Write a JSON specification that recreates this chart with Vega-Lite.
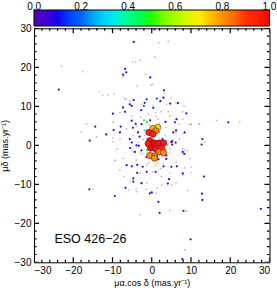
{
  "$schema": "https://vega.github.io/schema/vega-lite/v6.json",
  "width": 235.5,
  "height": 234,
  "autosize": {"type": "none"},
  "padding": {"left": 34, "top": 28.3, "right": 7.5, "bottom": 28.7},
  "background": "white",
  "config": {
    "font": "Liberation Sans",
    "view": {"stroke": "black", "strokeWidth": 1},
    "axis": {
      "domain": false, "grid": false, "ticks": false, "labelOverlap": false,
      "labelFont": "Liberation Sans", "labelFontSize": 10, "labelColor": "black",
      "titleFont": "Liberation Sans", "titleFontSize": 9, "titleFontWeight": "normal", "titleColor": "black"
    }
  },
  "datasets": {
    "ticks": [
      {"v": -30, "kind": "major"}, {"v": -28, "kind": "minor"}, {"v": -26, "kind": "minor"}, {"v": -24, "kind": "minor"}, {"v": -22, "kind": "minor"},
      {"v": -20, "kind": "major"}, {"v": -18, "kind": "minor"}, {"v": -16, "kind": "minor"}, {"v": -14, "kind": "minor"}, {"v": -12, "kind": "minor"},
      {"v": -10, "kind": "major"}, {"v": -8, "kind": "minor"}, {"v": -6, "kind": "minor"}, {"v": -4, "kind": "minor"}, {"v": -2, "kind": "minor"},
      {"v": 0, "kind": "major"}, {"v": 2, "kind": "minor"}, {"v": 4, "kind": "minor"}, {"v": 6, "kind": "minor"}, {"v": 8, "kind": "minor"},
      {"v": 10, "kind": "major"}, {"v": 12, "kind": "minor"}, {"v": 14, "kind": "minor"}, {"v": 16, "kind": "minor"}, {"v": 18, "kind": "minor"},
      {"v": 20, "kind": "major"}, {"v": 22, "kind": "minor"}, {"v": 24, "kind": "minor"}, {"v": 26, "kind": "minor"}, {"v": 28, "kind": "minor"},
      {"v": 30, "kind": "major"}
    ],
    "field": [
      {"x": -23, "y": 20.3}, {"x": -17.6, "y": 18.9}, {"x": -4.8, "y": 21.4}, {"x": -4.1, "y": 21.4}, {"x": -2.9, "y": 21.8},
      {"x": -3.7, "y": 15.2}, {"x": -1.4, "y": 18.2}, {"x": -7.3, "y": 17.5}, {"x": -13.4, "y": 13.7}, {"x": -12.5, "y": 12.9},
      {"x": -11.1, "y": 12.9}, {"x": -9.6, "y": 13.2}, {"x": -7.0, "y": 12.0}, {"x": -6.5, "y": 11.8}, {"x": -0.2, "y": 15.4},
      {"x": 1.8, "y": 26.3}, {"x": 4.2, "y": 26.6}, {"x": 0.8, "y": 22.7}, {"x": 0.2, "y": 15.6}, {"x": 3.3, "y": 13.4},
      {"x": 4.9, "y": 12.1}, {"x": 8.2, "y": 10.0}, {"x": -18, "y": 3.4}, {"x": -16.6, "y": 5.5}, {"x": -14.1, "y": 2.2},
      {"x": -9.9, "y": 1.9}, {"x": -9.9, "y": 0.9}, {"x": -9.2, "y": -3.9}, {"x": -7.1, "y": -8.0}, {"x": 1.0, "y": 8.4},
      {"x": 2.4, "y": 8.6}, {"x": 4.2, "y": 8.6}, {"x": 7.9, "y": 8.6}, {"x": 10.1, "y": 5.4}, {"x": 12.0, "y": 5.4},
      {"x": 16.5, "y": 6.4}, {"x": 22.4, "y": 6.0}, {"x": 13.5, "y": 0.8}, {"x": 8.4, "y": -1.2}, {"x": 9.1, "y": -1.4},
      {"x": 8.4, "y": -5.8}, {"x": 10.1, "y": -5.6}, {"x": 10.0, "y": -7.0}, {"x": 2.4, "y": -8.0}, {"x": 5.1, "y": -10.2},
      {"x": 6.9, "y": 5.4}, {"x": 8.0, "y": 3.0}, {"x": -14.9, "y": -11.3}, {"x": -3.0, "y": -17.8}, {"x": -5.9, "y": -11.5},
      {"x": -4.0, "y": -11.1}, {"x": -1.4, "y": -11.3}, {"x": 1.35, "y": -10.9}, {"x": 9.1, "y": -11.6}, {"x": 4.6, "y": -16.7},
      {"x": 8.8, "y": -16.9}, {"x": 8.4, "y": -26.8}, {"x": 9.9, "y": 5.4}, {"x": 12.2, "y": 5.4},
      {"x": -5.6, "y": 11.3}, {"x": -2.6, "y": 10.5}, {"x": 0.3, "y": 10.1}, {"x": 3.7, "y": 10.5}, {"x": 6.2, "y": 10.9},
      {"x": -8.1, "y": 8.4}, {"x": -5.1, "y": 7.5}, {"x": -0.9, "y": 8.0}, {"x": 1.6, "y": 6.7}, {"x": 4.6, "y": 7.5},
      {"x": 7.9, "y": 6.7}, {"x": -9.8, "y": 5.9}, {"x": -6.4, "y": 4.2}, {"x": -3.9, "y": 5.0}, {"x": 3.7, "y": 4.6},
      {"x": 6.2, "y": 3.3}, {"x": 9.6, "y": 5.4}, {"x": -8.1, "y": 1.6}, {"x": -4.7, "y": 2.5}, {"x": 4.1, "y": 1.2},
      {"x": 7.1, "y": 1.6}, {"x": -8.9, "y": -0.9}, {"x": -5.1, "y": -1.3}, {"x": -3.0, "y": -1.7}, {"x": 4.6, "y": -0.9},
      {"x": 7.9, "y": -0.9}, {"x": -7.3, "y": -3.4}, {"x": -3.9, "y": -3.8}, {"x": -1.3, "y": -5.1}, {"x": 2.9, "y": -4.7},
      {"x": 6.2, "y": -4.3}, {"x": 9.6, "y": -3.4}, {"x": -8.1, "y": -6.4}, {"x": -3.0, "y": -7.2}, {"x": 0.3, "y": -6.8},
      {"x": 4.6, "y": -7.2}, {"x": 7.9, "y": -7.6}, {"x": -5.6, "y": -9.3}, {"x": -1.3, "y": -9.7}, {"x": 2.5, "y": -10.2},
      {"x": 6.2, "y": -9.7}, {"x": -3.9, "y": -11.9}, {"x": 1.2, "y": -12.3}, {"x": -9.4, "y": -3.8},
      {"x": -2.2, "y": 1.5}, {"x": -1.6, "y": -3.2}, {"x": 2.2, "y": -6.0}, {"x": -2.8, "y": 7.2}, {"x": 1.1, "y": 7.4},
      {"x": -1.8, "y": 2.6}, {"x": 3.4, "y": 2.5}, {"x": -2.4, "y": -2.2}, {"x": 2.6, "y": -3.0}, {"x": -0.6, "y": 5.2},
      {"x": 2.0, "y": 5.6}, {"x": -3.4, "y": 0.8}, {"x": 4.4, "y": -2.0}, {"x": -0.8, "y": -4.6}, {"x": 0.9, "y": -5.2}
    ],
    "stars": [
      {"x": -4.6, "y": 26.5, "p": 0.03}, {"x": 0.7, "y": 29.7, "p": 0.03}, {"x": -6.8, "y": 19.6, "p": 0.03}, {"x": -6.5, "y": 18.7, "p": 0.03},
      {"x": -7.3, "y": 18.1, "p": 0.03}, {"x": -0.4, "y": 17.4, "p": 0.03}, {"x": -23.7, "y": 14.3, "p": 0.03}, {"x": -4.6, "y": 11.6, "p": 0.03},
      {"x": -5.6, "y": 10.5, "p": 0.03}, {"x": -5.1, "y": 10.1, "p": 0.03}, {"x": -1.8, "y": 10.9, "p": 0.03},
      {"x": -7.3, "y": 9.7, "p": 0.03}, {"x": 3.1, "y": 14.1, "p": 0.03}, {"x": 3.0, "y": 12.2, "p": 0.03},
      {"x": 2.2, "y": 11.3, "p": 0.03}, {"x": 4.7, "y": 10.7, "p": 0.03}, {"x": 6.7, "y": 10.8, "p": 0.03},
      {"x": -9.9, "y": 8.1, "p": 0.03}, {"x": -6.8, "y": 8.6, "p": 0.03}, {"x": -14.4, "y": 4.8, "p": 0.03}, {"x": -11.6, "y": 2.8, "p": 0.03},
      {"x": -9.7, "y": 3.9, "p": 0.03}, {"x": -7.9, "y": 4.8, "p": 0.03}, {"x": -15.8, "y": 1.2, "p": 0.03},
      {"x": -5.1, "y": 0.7, "p": 0.03}, {"x": -5.5, "y": -0.7, "p": 0.03}, {"x": -3.3, "y": -0.1, "p": 0.03}, {"x": -5.1, "y": -5.4, "p": 0.03},
      {"x": -3.7, "y": -5.0, "p": 0.03}, {"x": -3.7, "y": -7.1, "p": 0.03}, {"x": -4.7, "y": -9.3, "p": 0.03}, {"x": -2.3, "y": -5.5, "p": 0.03},
      {"x": -2.6, "y": -1.3, "p": 0.03}, {"x": -4.8, "y": 4.5, "p": 0.03}, {"x": -2.7, "y": 9.0, "p": 0.03},
      {"x": -0.4, "y": 6.4, "p": 0.03}, {"x": -3.1, "y": 2.2, "p": 0.03},
      {"x": 8.8, "y": 8.2, "p": 0.03}, {"x": 6.3, "y": 6.7, "p": 0.03}, {"x": 5.9, "y": 5.9, "p": 0.03}, {"x": 3.5, "y": 6.0, "p": 0.03},
      {"x": 5.5, "y": 3.3, "p": 0.03}, {"x": 2.7, "y": 1.6, "p": 0.03}, {"x": 5.2, "y": 1.1, "p": 0.03}, {"x": 6.1, "y": 0.7, "p": 0.03},
      {"x": 5.2, "y": 0.2, "p": 0.03}, {"x": 12.9, "y": 1.6, "p": 0.03}, {"x": 12.7, "y": 0.2, "p": 0.03}, {"x": 19.5, "y": 5.9, "p": 0.03},
      {"x": 8.3, "y": -2.2, "p": 0.03}, {"x": 3.7, "y": -3.5, "p": 0.03}, {"x": 1.7, "y": -3.6, "p": 0.03}, {"x": 1.0, "y": -6.8, "p": 0.03},
      {"x": 3.0, "y": -5.4, "p": 0.03}, {"x": 6.4, "y": -5.4, "p": 0.03}, {"x": 4.4, "y": -8.7, "p": 0.03}, {"x": 4.1, "y": -9.8, "p": 0.03},
      {"x": 13.3, "y": -8.0, "p": 0.03}, {"x": 0.4, "y": 9.6, "p": 0.03},
      {"x": -15.9, "y": -11.3, "p": 0.03}, {"x": -9.4, "y": -13.0, "p": 0.03}, {"x": -6.7, "y": -10.9, "p": 0.03},
      {"x": 12.8, "y": -12.4, "p": 0.03}, {"x": 12.9, "y": -14.0, "p": 0.03}, {"x": 1.7, "y": -14.5, "p": 0.03}, {"x": 2.0, "y": -17.3, "p": 0.03},
      {"x": 8.1, "y": -16.8, "p": 0.03}, {"x": 27.8, "y": -16.3, "p": 0.03}, {"x": 9.9, "y": -24.1, "p": 0.03}, {"x": 7.8, "y": -29.2, "p": 0.03},
      {"x": 0.0, "y": -12.1, "p": 0.03},
      {"x": -5.1, "y": 6.3, "p": 0.03}, {"x": -2.6, "y": 5.4, "p": 0.03}, {"x": 6.2, "y": 3.8, "p": 0.03}, {"x": -3.5, "y": 3.3, "p": 0.03},
      {"x": -8.1, "y": 3.3, "p": 0.03}, {"x": 8.4, "y": 3.3, "p": 0.03}, {"x": 5.0, "y": 0.8, "p": 0.03}, {"x": -4.3, "y": -1.7, "p": 0.03},
      {"x": 7.9, "y": -1.7, "p": 0.03}, {"x": -1.3, "y": -3.0, "p": 0.03}, {"x": 3.7, "y": -2.6, "p": 0.03}, {"x": -6.4, "y": -5.1, "p": 0.03},
      {"x": 5.0, "y": -5.5, "p": 0.03}, {"x": 7.9, "y": -7.2, "p": 0.03}, {"x": -4.7, "y": -8.5, "p": 0.03}, {"x": -1.3, "y": -6.8, "p": 0.03},
      {"x": -2.6, "y": -9.7, "p": 0.03}, {"x": -0.5, "y": -12.3, "p": 0.03},
      {"x": -1.3, "y": 11.8, "p": 0.12}, {"x": -2.0, "y": 10.1, "p": 0.2}, {"x": 1.3, "y": 12.0, "p": 0.12}, {"x": -5.6, "y": 1.6, "p": 0.1},
      {"x": -4.1, "y": 5.5, "p": 0.12}, {"x": -3.9, "y": 0.0, "p": 0.1},
      {"x": -2.0, "y": 6.4, "p": 0.45}, {"x": -1.2, "y": 6.0, "p": 0.5}, {"x": -1.8, "y": 3.8, "p": 0.3}, {"x": -1.0, "y": 3.8, "p": 0.45},
      {"x": -1.3, "y": -1.2, "p": 0.42}, {"x": 4.0, "y": 0.05, "p": 0.45}, {"x": 3.5, "y": -1.1, "p": 0.4}, {"x": 1.3, "y": -4.6, "p": 0.65},
      {"x": 1.9, "y": 3.4, "p": 0.3}
    ],
    "members": [
      {"x": 1.5, "y": 4.6, "p": 0.72}, {"x": 0.3, "y": 4.3, "p": 0.75}, {"x": 1.0, "y": 3.7, "p": 0.8}, {"x": -0.7, "y": 3.3, "p": 0.92},
      {"x": 0.3, "y": 2.9, "p": 0.95}, {"x": -0.5, "y": 1.2, "p": 0.97}, {"x": -0.9, "y": 0.4, "p": 0.95}, {"x": 0.6, "y": 0.6, "p": 1.0},
      {"x": 1.9, "y": 0.6, "p": 0.98}, {"x": 3.0, "y": 0.6, "p": 0.96}, {"x": -0.3, "y": -0.7, "p": 0.99}, {"x": 1.0, "y": -0.9, "p": 0.97},
      {"x": 2.5, "y": -0.7, "p": 0.95}, {"x": 1.8, "y": -1.7, "p": 0.82}, {"x": 3.0, "y": -1.9, "p": 0.8}, {"x": -0.5, "y": -2.6, "p": 0.8},
      {"x": 0.8, "y": -2.7, "p": 0.8}, {"x": 0.7, "y": -3.3, "p": 0.8}
    ],
    "label": [{"x": -24.8, "y": -25.0, "text": "ESO 426−26"}]
  },
  "layer": [
    {
      "data": {"name": "field"},
      "mark": {"type": "square", "size": 2, "color": "#c898c8", "opacity": 0.9},
      "encoding": {
        "x": {"field": "x", "type": "quantitative", "scale": {"domain": [-30, 30], "nice": false, "zero": false},
          "axis": {"orient": "bottom", "values": [-30, -20, -10, 0, 10, 20, 30], "labelOverlap": false, "labelPadding": 3.5, "title": "μα.cos δ (mas.yr⁻¹)", "titlePadding": 3}},
        "y": {"field": "y", "type": "quantitative", "scale": {"domain": [-30, 30], "nice": false, "zero": false},
          "axis": {"orient": "left", "values": [-30, -20, -10, 0, 10, 20, 30], "labelOverlap": false, "labelPadding": 3, "title": "μδ (mas.yr⁻¹)", "titlePadding": 5}}
      }
    },
    {
      "data": {"name": "stars"},
      "mark": {"type": "circle", "size": 5, "opacity": 1},
      "encoding": {
        "x": {"field": "x", "type": "quantitative", "axis": null},
        "y": {"field": "y", "type": "quantitative", "axis": null},
        "color": {"field": "p", "type": "quantitative",
          "scale": {"type": "linear", "domain": [0, 0.1, 0.2, 0.3, 0.4, 0.5, 0.6, 0.7, 0.8, 0.9, 1.0],
            "range": ["#5000b4", "#1400f0", "#0064ff", "#00d8ff", "#00ff88", "#20ff00", "#a8ff00", "#fff000", "#ff9000", "#ff3000", "#ff0000"]},
          "legend": {"orient": "none", "legendX": 0, "legendY": -18.3, "direction": "horizontal", "title": null,
            "gradientLength": 235.5, "gradientThickness": 16, "gradientStrokeColor": "black", "gradientStrokeWidth": 1,
            "values": [0.0005, 0.2, 0.4, 0.6, 0.8, 0.9995], "format": ".1f", "labelOffset": -24,
            "labelFont": "Liberation Sans", "labelFontSize": 10, "labelColor": "black", "labelOverlap": false, "padding": 0,
            "encode": {"labels": {"update": {"align": {"value": "center"}}}}}}
      }
    },
    {
      "data": {"name": "members"},
      "mark": {"type": "circle", "size": 40, "opacity": 1, "stroke": "#501040", "strokeWidth": 0.6},
      "encoding": {
        "x": {"field": "x", "type": "quantitative", "axis": null},
        "y": {"field": "y", "type": "quantitative", "axis": null},
        "color": {"field": "p", "type": "quantitative"}
      }
    },
    {
      "data": {"name": "label"},
      "mark": {"type": "text", "align": "left", "baseline": "alphabetic", "fontSize": 12.5, "font": "Liberation Sans", "color": "black"},
      "encoding": {
        "x": {"field": "x", "type": "quantitative", "axis": null},
        "y": {"field": "y", "type": "quantitative", "axis": null},
        "text": {"field": "text"}
      }
    },
    {
      "data": {"name": "ticks"},
      "mark": {"type": "tick", "orient": "vertical", "clip": true, "color": "black", "thickness": 1.2, "opacity": 1},
      "encoding": {
        "x": {"field": "v", "type": "quantitative", "axis": null},
        "y": {"datum": -30, "axis": null},
        "size": {"field": "kind", "type": "nominal", "scale": {"domain": ["major", "minor"], "range": [10, 5]}, "legend": null}
      }
    },
    {
      "data": {"name": "ticks"},
      "mark": {"type": "tick", "orient": "vertical", "clip": true, "color": "black", "thickness": 1.2, "opacity": 1},
      "encoding": {
        "x": {"field": "v", "type": "quantitative", "axis": null},
        "y": {"datum": 30, "axis": null},
        "size": {"field": "kind", "type": "nominal", "legend": null}
      }
    },
    {
      "data": {"name": "ticks"},
      "mark": {"type": "tick", "orient": "horizontal", "clip": true, "color": "black", "thickness": 1.2, "opacity": 1},
      "encoding": {
        "y": {"field": "v", "type": "quantitative", "axis": null},
        "x": {"datum": -30, "axis": null},
        "size": {"field": "kind", "type": "nominal", "legend": null}
      }
    },
    {
      "data": {"name": "ticks"},
      "mark": {"type": "tick", "orient": "horizontal", "clip": true, "color": "black", "thickness": 1.2, "opacity": 1},
      "encoding": {
        "y": {"field": "v", "type": "quantitative", "axis": null},
        "x": {"datum": 30, "axis": null},
        "size": {"field": "kind", "type": "nominal", "legend": null}
      }
    }
  ],
  "resolve": {"axis": {"x": "independent", "y": "independent"}}
}
